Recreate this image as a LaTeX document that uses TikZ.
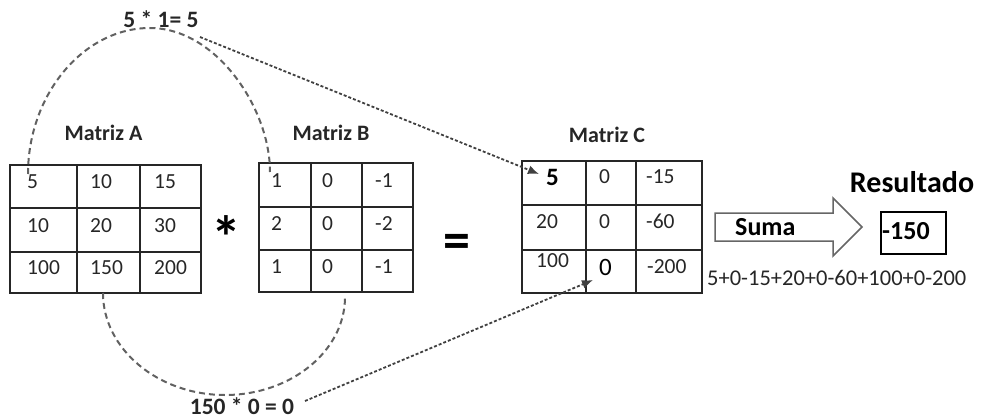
\documentclass[tikz,border=0pt]{standalone}
\usepackage{fontspec}
\setmainfont{Carlito}
\usetikzlibrary{arrows.meta}
\begin{document}
\begin{tikzpicture}[x=1pt,y=-1pt,
  gridline/.style={line width=1.7pt, black!85},
  matbox/.style={draw, line width=1.7pt, black!85, inner sep=0pt},
  num/.style={anchor=base west, inner sep=0pt, font=\fontsize{21.5}{25}\selectfont, text=black!85},
  bignum/.style={anchor=base west, inner sep=0pt, font=\fontsize{25}{29}\selectfont, text=black},
  mtitle/.style={anchor=base, inner sep=0pt, font=\bfseries\fontsize{22}{26}\selectfont, text=black!85},
  calc/.style={anchor=base, inner sep=0pt, font=\bfseries\fontsize{23.5}{27}\selectfont, text=black!85},
  arcline/.style={dash pattern=on 6pt off 4pt, line width=2pt, black!62},
  dotarrow/.style={dash pattern=on 3pt off 2pt, line width=1.8pt, black!75, -{Latex[length=11pt,width=9pt]}},
  blockarrow/.style={draw=black!60, line width=1.5pt, fill=white},
]
\useasboundingbox (0,0) rectangle (983,420);

% ---------- Matrix A ----------
\node[matbox, minimum width=191pt, minimum height=128pt] (matA) at (105.5,229) {};
\draw[gridline] (77,165) -- (77,293) (140,165) -- (140,293)
                (10,208) -- (201,208) (10,252) -- (201,252);
\node[mtitle] (lA) at (103.5,140) {Matriz A};
\node[num] (a11) at (27,188) {5};
\node[num] (a12) at (90,188) {10};
\node[num] (a13) at (154,188) {15};
\node[num] (a21) at (27,232) {10};
\node[num] (a22) at (90,232) {20};
\node[num] (a23) at (154,232) {30};
\node[num] (a31) at (27,274) {100};
\node[num] (a32) at (90,274) {150};
\node[num] (a33) at (154,274) {200};

% ---------- operator * ----------
\node[anchor=base, inner sep=0pt, font=\bfseries\fontsize{60}{66}\selectfont] (star) at (226,258) {*};

% ---------- Matrix B ----------
\node[matbox, minimum width=154pt, minimum height=129pt] (matB) at (336,227.5) {};
\draw[gridline] (311,163) -- (311,292) (362,163) -- (362,292)
                (259,207) -- (413,207) (259,250) -- (413,250);
\node[mtitle] (lB) at (331,140) {Matriz B};
\node[num] (b11) at (271,187) {1};
\node[num] (b12) at (322,187) {0};
\node[num] (b13) at (375,187) {-1};
\node[num] (b21) at (271,230) {2};
\node[num] (b22) at (322,230) {0};
\node[num] (b23) at (375,230) {-2};
\node[num] (b31) at (271,273) {1};
\node[num] (b32) at (322,273) {0};
\node[num] (b33) at (375,273) {-1};

% ---------- operator = ----------
\node[anchor=base, inner sep=0pt, font=\bfseries\fontsize{54}{60}\selectfont] (eq) at (457,258) {=};

% ---------- Matrix C ----------
\node[matbox, minimum width=180pt, minimum height=132pt] (matC) at (612,227) {};
\draw[gridline] (586,161) -- (586,293) (636,161) -- (636,293)
                (522,205) -- (702,205) (522,250) -- (702,250);
\node[mtitle] (lC) at (607,142) {Matriz C};
\node[bignum, font=\bfseries\fontsize{25}{29}\selectfont] (c11) at (546,185) {5};
\node[num] (c12) at (599,183) {0};
\node[num] (c13) at (646,183) {-15};
\node[num] (c21) at (536,228) {20};
\node[num] (c22) at (599,228) {0};
\node[num] (c23) at (646,228) {-60};
\node[num] (c31) at (536,267) {100};
\node[bignum] (c32) at (599,275) {0};
\node[num] (c33) at (647,273) {-200};

% ---------- Suma arrow ----------
\draw[blockarrow] (715,213) -- (833,213) -- (833,198) -- (862,227) -- (833,256) -- (833,241) -- (715,241) -- cycle;
\node[anchor=base west, inner sep=0pt, font=\bfseries\fontsize{26}{30}\selectfont] (suma) at (735,235) {Suma};

% ---------- Result ----------
\node[anchor=base, inner sep=0pt, font=\bfseries\fontsize{30}{34}\selectfont] (restitle) at (912,192) {Resultado};
\node[draw, line width=1.6pt, minimum width=65pt, minimum height=42pt, inner sep=0pt] (resbox) at (913.5,233) {};
\node[anchor=base west, inner sep=0pt, font=\bfseries\fontsize{26}{30}\selectfont] (res) at (882,239) {-150};
\node[anchor=base west, inner sep=0pt, font=\fontsize{22.5}{26}\selectfont, text=black!85] (sumtext) at (707,285) {5+0-15+20+0-60+100+0-200};

% ---------- calculation labels ----------
\node[calc] (top) at (161,28) {5 * 1= 5};
\node[calc] (bot) at (242,414) {150 * 0 = 0};

% ---------- connector end points ----------
\coordinate (ta) at (28,174);
\coordinate (tb) at (270,172);
\coordinate (ba) at (103,293);
\coordinate (bb) at (345,297);
\coordinate (tfrom) at (200,37);
\coordinate (tto) at (539,174);
\coordinate (bfrom) at (305,401);
\coordinate (bto) at (593,280);

% top arc A(1,1) -> B(1,1)
\draw[arcline] (ta) .. controls (28,95) and (83,28) .. (150,28)
                    .. controls (216,28) and (270,108) .. (tb);
% bottom arc A(3,2) -> B(3,2)
\draw[arcline] (ba) .. controls (103,349) and (158,395) .. (225,395)
                    .. controls (291,395) and (345,351) .. (bb);
% dotted arrows
\draw[dotarrow] (tfrom) -- (tto);
\draw[dotarrow] (bfrom) -- (bto);
\end{tikzpicture}
\end{document}
